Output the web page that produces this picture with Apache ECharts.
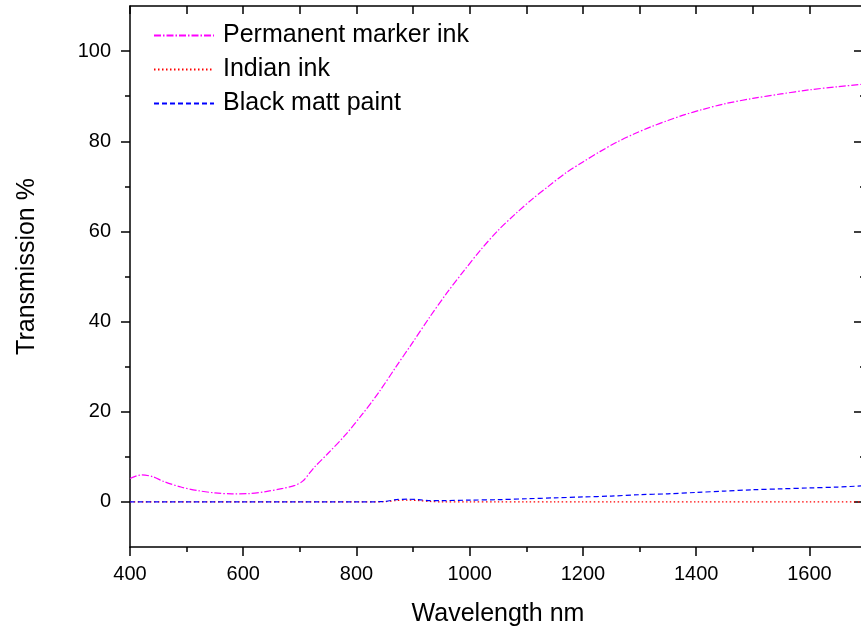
<!DOCTYPE html>
<html>
<head>
<meta charset="utf-8">
<script src="https://cdn.jsdelivr.net/npm/echarts@6/dist/echarts.min.js"></script>
<style>
  html, body { margin: 0; padding: 0; background: #fff; }
  #chart { width: 861px; height: 638px; }
</style>
</head>
<body>
<div id="chart"></div>
<script>
// Transmission spectra of three black coatings
const markerWavelength = [400, 420, 440, 460, 490, 520, 550, 580, 610, 640, 670, 690, 705, 725, 750, 780, 810, 840, 870, 900, 930, 960, 990, 1020, 1050, 1080, 1110, 1140, 1170, 1200, 1230, 1260, 1290, 1320, 1350, 1380, 1410, 1450, 1500, 1550, 1600, 1650, 1700];
const permanentMarkerInk = [5.2, 6.0, 5.6, 4.5, 3.3, 2.5, 2.0, 1.8, 1.85, 2.3, 3.0, 3.6, 4.6, 7.6, 10.8, 14.8, 19.4, 24.4, 30.0, 35.5, 41.1, 46.4, 51.3, 56.0, 60.2, 63.8, 67.1, 70.1, 73.0, 75.4, 77.7, 79.8, 81.6, 83.2, 84.6, 85.9, 87.0, 88.3, 89.5, 90.5, 91.4, 92.1, 92.7];

const inkWavelength = [400, 500, 600, 700, 800, 850, 870, 890, 910, 930, 950, 1000, 1050, 1100, 1150, 1200, 1250, 1300, 1350, 1400, 1450, 1500, 1550, 1600, 1650, 1700];
const indianInk =      [0, 0, 0, 0, 0, 0.05, 0.3, 0.4, 0.3, 0.1, 0, 0, 0, 0, 0, 0, 0, 0, 0, 0, 0, 0, 0, 0, 0, 0];
const blackMattPaint = [0, 0, 0, 0, 0, 0.1, 0.5, 0.6, 0.5, 0.3, 0.3, 0.4, 0.5, 0.7, 0.9, 1.1, 1.3, 1.6, 1.8, 2.1, 2.4, 2.7, 2.9, 3.1, 3.3, 3.6];

const seriesNames = ['Permanent marker ink', 'Indian ink', 'Black matt paint'];
const yMajorTicks = [0, 20, 40, 60, 80, 100];
const yMinorTicks = [10, 30, 50, 70, 90];

const pairs = (xs, ys) => xs.map((x, i) => [x, ys[i]]);

const FONT = 'Liberation Sans, Arial, Helvetica, sans-serif';
const axisLineStyle = { color: '#000', width: 1.5 };

const chart = echarts.init(document.getElementById('chart'), null, { renderer: 'canvas' });

const hiddenY = {
  type: 'value', min: -10, max: 110, interval: 10,
  axisLabel: { show: false }, splitLine: { show: false }
};

chart.setOption({
  animation: false,
  backgroundColor: '#fff',
  textStyle: { fontFamily: FONT },
  grid: { left: 130, top: 6, width: 736, height: 541, containLabel: false, outerBoundsMode: 'none' },
  legend: {
    orient: 'vertical',
    left: 153, top: 23, padding: 0,
    itemWidth: 60, itemHeight: 14, itemGap: 9,
    data: seriesNames,
    itemStyle: { opacity: 0 },
    textStyle: { fontSize: 25, lineHeight: 25, color: '#000', fontFamily: FONT, padding: [0, 0, 0, 4] }
  },
  xAxis: [
    {
      type: 'value', position: 'bottom', min: 400, max: 1700, interval: 200,
      name: 'Wavelength nm', nameLocation: 'middle', nameGap: 55,
      nameTextStyle: { fontSize: 25, color: '#000', fontFamily: FONT },
      axisLine: { show: true, onZero: false, lineStyle: axisLineStyle },
      axisTick: { show: true, inside: false, length: 9, lineStyle: axisLineStyle },
      minorTick: { show: true, splitNumber: 2, length: 5, lineStyle: axisLineStyle },
      axisLabel: { fontSize: 20, margin: 17, color: '#000', fontFamily: FONT, showMaxLabel: false, formatter: v => String(v) },
      splitLine: { show: false }
    },
    {
      type: 'value', position: 'top', min: 400, max: 1700, interval: 100,
      axisLine: { show: true, onZero: false, lineStyle: axisLineStyle },
      axisTick: { show: true, inside: true, length: 8, lineStyle: axisLineStyle },
      axisLabel: { show: false },
      splitLine: { show: false }
    }
  ],
  yAxis: [
    {
      type: 'value', position: 'left', min: -10, max: 110, interval: 10,
      name: 'Transmission %', nameLocation: 'middle', nameGap: 90,
      nameTextStyle: { fontSize: 25, color: '#000', fontFamily: FONT, padding: [0, 0, 0, 20] },
      axisLine: { show: true, onZero: false, lineStyle: axisLineStyle },
      axisTick: { show: true, inside: false, length: 9, customValues: yMajorTicks, lineStyle: axisLineStyle },
      axisLabel: { fontSize: 20, margin: 19, color: '#000', fontFamily: FONT, customValues: yMajorTicks },
      splitLine: { show: false }
    },
    Object.assign({}, hiddenY, {
      position: 'left',
      axisLine: { show: false },
      axisTick: { show: true, inside: false, length: 5, customValues: yMinorTicks, lineStyle: axisLineStyle }
    }),
    Object.assign({}, hiddenY, {
      position: 'right',
      axisLine: { show: true, onZero: false, lineStyle: axisLineStyle },
      axisTick: { show: true, inside: true, length: 12, customValues: yMajorTicks, lineStyle: axisLineStyle }
    }),
    Object.assign({}, hiddenY, {
      position: 'right',
      axisLine: { show: false },
      axisTick: { show: true, inside: true, length: 6, customValues: yMinorTicks, lineStyle: axisLineStyle }
    })
  ],
  series: [
    {
      name: seriesNames[0], type: 'line', xAxisIndex: 0, yAxisIndex: 0,
      data: pairs(markerWavelength, permanentMarkerInk),
      smooth: 0.3, symbol: 'none', showSymbol: false,
      itemStyle: { color: '#ff00ff' },
      lineStyle: { color: '#ff00ff', width: 1.2, type: [7, 2, 1.5, 2] }
    },
    {
      name: seriesNames[1], type: 'line', xAxisIndex: 0, yAxisIndex: 0,
      data: pairs(inkWavelength, indianInk),
      smooth: 0.3, symbol: 'none', showSymbol: false,
      itemStyle: { color: '#ff0000' },
      lineStyle: { color: '#ff0000', width: 1.2, type: [1.5, 2.5] }
    },
    {
      name: seriesNames[2], type: 'line', xAxisIndex: 0, yAxisIndex: 0,
      data: pairs(inkWavelength, blackMattPaint),
      smooth: 0.3, symbol: 'none', showSymbol: false,
      itemStyle: { color: '#0000ff' },
      lineStyle: { color: '#0000ff', width: 1.2, type: [5, 3] }
    }
  ]
});
</script>
</body>
</html>
